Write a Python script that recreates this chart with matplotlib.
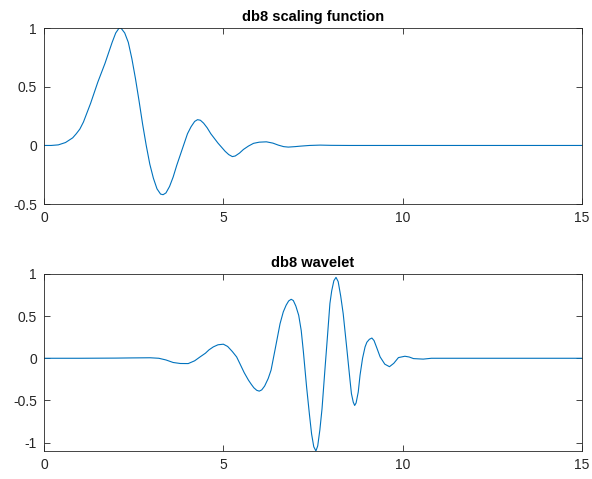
import matplotlib
matplotlib.use('Agg')
import matplotlib.pyplot as plt

# db8 scaling function
phi_x = [0.0, 0.2, 0.4, 0.6, 0.8, 0.9, 1.0, 1.1, 1.2, 1.3, 1.4, 1.5, 1.6, 1.7, 1.8, 1.9, 2.0, 2.09,
         2.15, 2.25, 2.35, 2.45, 2.55, 2.65, 2.75, 2.85, 2.95, 3.05, 3.15, 3.25, 3.32, 3.4, 3.5,
         3.6, 3.7, 3.8, 3.9, 4.0, 4.1, 4.2, 4.28, 4.36, 4.45, 4.55, 4.65, 4.75, 4.85, 4.95, 5.05,
         5.15, 5.25, 5.33, 5.45, 5.56, 5.7, 5.84, 6.0, 6.2, 6.38, 6.53, 6.68, 6.81, 7.0, 7.14,
         7.4, 7.7, 8.0, 8.5, 15.0]
phi_y = [0.0, 0.0, 0.005, 0.025, 0.065, 0.1, 0.14, 0.2, 0.28, 0.36, 0.45, 0.54, 0.62, 0.70, 0.79,
         0.88, 0.96, 1.0, 1.0, 0.96, 0.88, 0.74, 0.57, 0.38, 0.18, 0.0, -0.16, -0.28, -0.37, -0.415,
         -0.42, -0.405, -0.35, -0.27, -0.17, -0.08, 0.01, 0.1, 0.16, 0.205, 0.22, 0.215, 0.19, 0.15,
         0.1, 0.06, 0.02, -0.015, -0.05, -0.078, -0.095, -0.09, -0.065, -0.034, -0.005, 0.018, 0.028,
         0.031, 0.02, 0.003, -0.01, -0.014, -0.01, -0.006, 0.0, 0.003, 0.001, 0.0, 0.0]

# db8 wavelet
psi_x = [0.0, 1.0, 2.0, 2.4, 2.96, 3.2, 3.4, 3.6, 3.8, 4.02, 4.2, 4.35, 4.5, 4.6, 4.72, 4.85, 5.0,
         5.12, 5.25, 5.37, 5.46, 5.58, 5.7, 5.78, 5.85, 5.93, 6.0, 6.07, 6.15, 6.25, 6.33, 6.44,
         6.58, 6.67, 6.75, 6.82, 6.89, 6.95, 7.02, 7.1, 7.17, 7.23, 7.32, 7.4, 7.46, 7.52, 7.58,
         7.63, 7.69, 7.75, 7.83, 7.9, 7.97, 8.02, 8.08, 8.14, 8.2, 8.27, 8.34, 8.44, 8.53, 8.57,
         8.62, 8.66, 8.7, 8.76, 8.81, 8.88, 8.95, 9.0, 9.07, 9.14, 9.2, 9.28, 9.37, 9.5, 9.63,
         9.75, 9.88, 10.06, 10.18, 10.3, 10.57, 10.8, 15.0]
psi_y = [0.0, 0.0, 0.002, 0.004, 0.006, 0.0, -0.02, -0.05, -0.062, -0.063, -0.03, 0.016, 0.06, 0.1,
         0.135, 0.16, 0.167, 0.14, 0.08, 0.016, -0.063, -0.17, -0.26, -0.31, -0.35, -0.38, -0.39,
         -0.375, -0.33, -0.24, -0.14, 0.1, 0.41, 0.55, 0.63, 0.68, 0.70, 0.685, 0.62, 0.51, 0.33,
         0.08, -0.34, -0.67, -0.9, -1.05, -1.1, -1.04, -0.85, -0.6, -0.14, 0.25, 0.65, 0.8, 0.92,
         0.96, 0.91, 0.74, 0.53, 0.12, -0.26, -0.42, -0.52, -0.56, -0.53, -0.4, -0.2, 0.0, 0.135,
         0.19, 0.225, 0.24, 0.21, 0.12, 0.016, -0.07, -0.10, -0.06, 0.008, 0.024, 0.015, -0.004,
         -0.01, 0.0, 0.0]

x_ticks = [0, 5, 10, 15]
phi_yticks = [-0.5, 0, 0.5, 1]
psi_yticks = [-1, -0.5, 0, 0.5, 1]

plt.rcParams['font.family'] = ['Liberation Sans', 'DejaVu Sans']
line_color = '#0072BD'
axis_color = '#262626'


def style_axes(ax, yticks, ylim, title):
    ax.set_xlim(0, 15)
    ax.set_ylim(*ylim)
    ax.set_xticks(x_ticks)
    ax.set_xticklabels([str(t) for t in x_ticks])
    ax.set_yticks(yticks)
    ax.set_yticklabels([f"{t:g}" for t in yticks])
    ax.tick_params(direction='in', length=4, width=0.6, top=True, right=True,
                   labelsize=10, colors=axis_color, labelcolor=axis_color, pad=5)
    for s in ax.spines.values():
        s.set_color(axis_color)
        s.set_linewidth(0.6)
    ax.set_title(title, fontsize=10.5, fontweight='bold', pad=5, color='black')


fig = plt.figure(figsize=(5.92, 4.79), dpi=100)

ax1 = fig.add_axes([0.0743, 0.574, 0.909, 0.367])
ax1.plot(phi_x, phi_y, color=line_color, linewidth=0.8)
style_axes(ax1, phi_yticks, (-0.5, 1), "db8 scaling function")

ax2 = fig.add_axes([0.0743, 0.0585, 0.909, 0.3695])
ax2.plot(psi_x, psi_y, color=line_color, linewidth=0.8)
style_axes(ax2, psi_yticks, (-1.1, 1), "db8 wavelet")

plt.savefig("out.png", dpi=100)
plt.close()
